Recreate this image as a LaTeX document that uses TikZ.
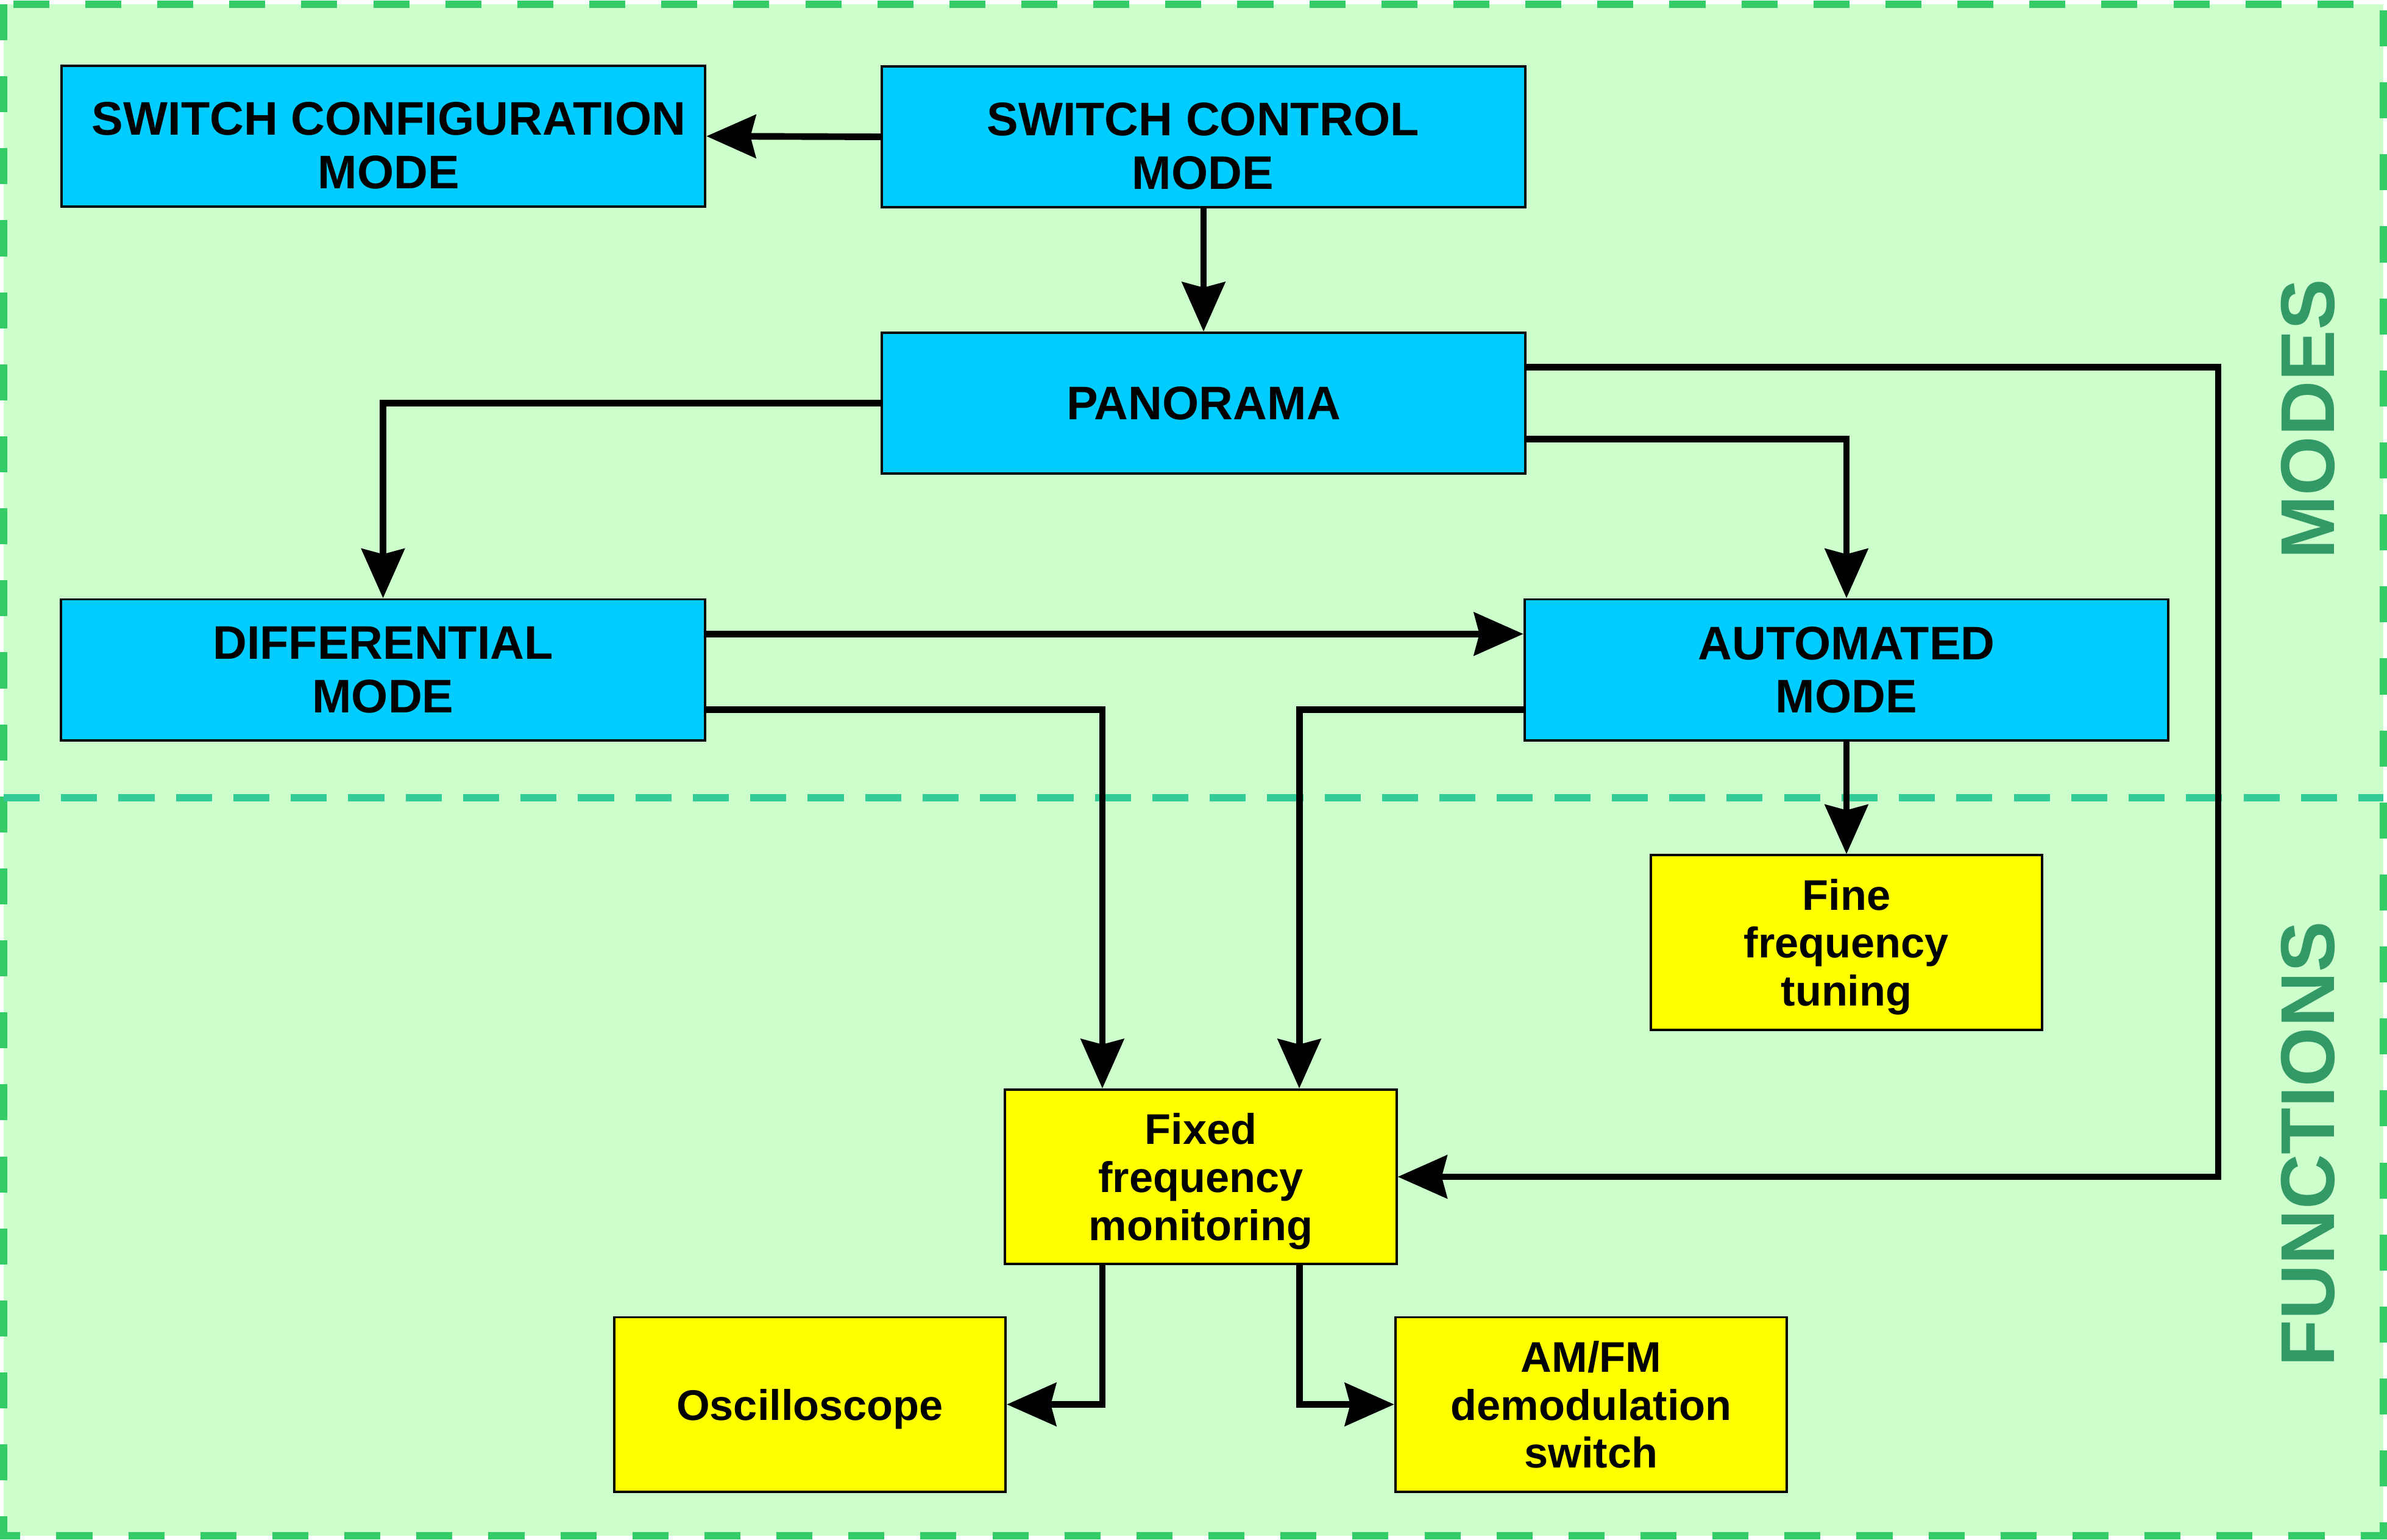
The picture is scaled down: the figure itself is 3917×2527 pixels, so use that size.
\documentclass[tikz,border=0pt]{standalone}
\usepackage{fontspec}
\setmainfont{Liberation Sans}
\usetikzlibrary{arrows.meta,calc}
\definecolor{bgfill}{HTML}{CCFFCC}
\definecolor{bordergreen}{HTML}{33CC66}
\definecolor{dividergreen}{HTML}{33CC99}
\definecolor{labelgreen}{HTML}{339966}
\definecolor{bluefill}{HTML}{00CCFF}
\definecolor{yellowfill}{HTML}{FFFF00}
\tikzset{
  bluebox/.style={draw=black, line width=1.1pt, fill=bluefill, inner sep=0pt,
    minimum width=10.56cm, minimum height=2.31cm, align=center, text depth=0pt,
    font=\bfseries\fontsize{22}{25}\selectfont},
  bluetext/.style={inner sep=0pt, align=center, text depth=0pt,
    font=\bfseries\fontsize{22}{25}\selectfont},
  yellowbox/.style={draw=black, line width=1.1pt, fill=yellowfill, inner sep=0pt,
    minimum width=6.42cm, minimum height=2.86cm, align=center, text depth=0pt,
    font=\bfseries\fontsize{20}{22.4}\selectfont},
  conn/.style={draw=black, line width=3.1pt,
    -{Stealth[length=23pt, width=20pt, inset=2.5pt]}},
  sectionlabel/.style={text=labelgreen, rotate=90, inner sep=0pt,
    font=\bfseries\fontsize{35.6}{40}\selectfont}
}
\begin{document}
\begin{tikzpicture}[x=0.01cm, y=-0.01cm]
\useasboundingbox (0,0) rectangle (3917,2527);
% background and dashed border
\fill[bgfill] (6,7) rectangle (3911,2520);
\draw[bordergreen, line width=3.4pt, dash pattern=on 16.8pt off 16.8pt] (6,7) rectangle (3911,2520);
% divider
\draw[dividergreen, line width=3.4pt, dash pattern=on 16.8pt off 10pt] (6,1309) -- (3911,1309);
% section labels
\node[sectionlabel] (modes) at (3787,688) {MODES};
\node[sectionlabel] (functions) at (3787,1877) {FUNCTIONS};
% boxes
\node[bluebox] (cfg) at (629,223.5) {};
\node[bluetext] (cfgtext) at (638,238.5) {SWITCH CONFIGURATION\\MODE};
\node[bluebox] (ctl) at (1975,224.5) {};
\node[bluetext] (ctltext) at (1974,239.5) {SWITCH CONTROL\\MODE};
\node[bluebox] (pan) at (1975,661.5) {PANORAMA};
\node[bluebox] (dif) at (628.5,1099) {DIFFERENTIAL\\MODE};
\node[bluebox] (aut) at (3030,1099) {AUTOMATED\\MODE};
\node[yellowbox] (fine) at (3030,1546.5) {Fine\\frequency\\tuning};
\node[yellowbox] (fix) at (1970.5,1931) {Fixed\\frequency\\monitoring};
\node[yellowbox] (osc) at (1329,2304.5) {Oscilloscope};
\node[yellowbox] (amfm) at (2611,2304.5) {AM/FM\\demodulation\\switch};
% helper coordinate for the right rail
\coordinate (rail) at (3640,1931);
% connectors
\draw[conn] (ctl.west) -- (cfg.east);
\draw[conn] (ctl.south) -- (pan.north);
\draw[conn] (pan.west) -| (dif.north);
\draw[conn] ($(pan.north east)!0.75!(pan.south east)$) -| (aut.north);
\draw[conn] ($(pan.north east)!0.25!(pan.south east)$) -| (rail) -- (fix.east);
\draw[conn] ($(dif.north east)!0.25!(dif.south east)$) -- ($(aut.north west)!0.25!(aut.south west)$);
\draw[conn] ($(dif.north east)!0.78!(dif.south east)$) -| ($(fix.north west)!0.25!(fix.north east)$);
\draw[conn] ($(aut.north west)!0.78!(aut.south west)$) -| ($(fix.north west)!0.75!(fix.north east)$);
\draw[conn] (aut.south) -- (fine.north);
\draw[conn] ($(fix.south west)!0.25!(fix.south east)$) |- (osc.east);
\draw[conn] ($(fix.south west)!0.75!(fix.south east)$) |- (amfm.west);
\end{tikzpicture}
\end{document}
